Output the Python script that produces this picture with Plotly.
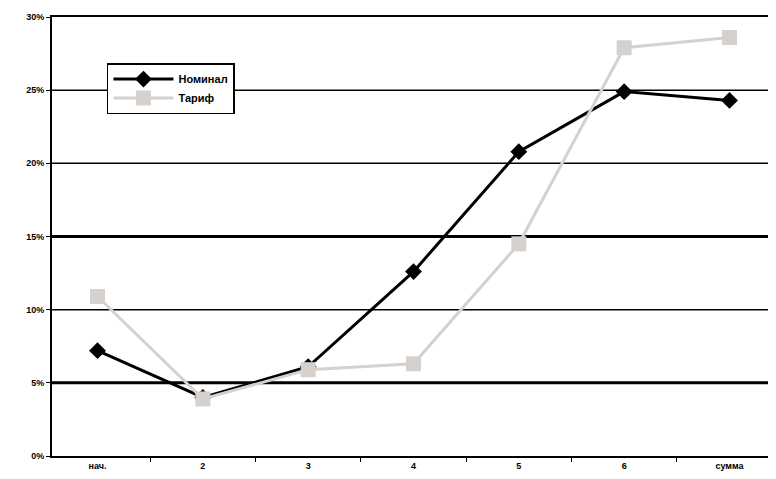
import plotly.graph_objects as go

categories = ["нач.", "2", "3", "4", "5", "6", "сумма"]
nominal = [7.2, 4.0, 6.1, 12.6, 20.8, 24.9, 24.3]
tarif = [10.9, 3.9, 5.9, 6.3, 14.5, 27.9, 28.6]
yticks = [0, 5, 10, 15, 20, 25, 30]
yticklabels = ["0%", "5%", "10%", "15%", "20%", "25%", "30%"]
thick_grid = [5, 15]
thin_grid = [10, 20, 25]

fig = go.Figure()
fig.add_trace(go.Scatter(
    x=categories, y=nominal, name="Номинал", mode="lines+markers",
    line=dict(color="black", width=3),
    marker=dict(symbol="diamond", size=13, color="black"),
))
fig.add_trace(go.Scatter(
    x=categories, y=tarif, name="Тариф", mode="lines+markers",
    line=dict(color="#d6d1cd", width=3),
    marker=dict(symbol="square", size=15, color="#d6d1cd"),
))

shapes = []
for g in thin_grid:
    shapes.append(dict(type="line", xref="paper", x0=0, x1=1, yref="y", y0=g, y1=g,
                       line=dict(color="black", width=1.5), layer="below"))
for g in thick_grid:
    shapes.append(dict(type="line", xref="paper", x0=0, x1=1, yref="y", y0=g, y1=g,
                       line=dict(color="black", width=3), layer="below"))

fig.update_layout(
    width=776, height=479,
    margin=dict(l=44, r=9, t=9, b=31),
    paper_bgcolor="white", plot_bgcolor="white",
    font=dict(family="Liberation Sans, Arial", size=9, color="black", weight="bold"),
    showlegend=True,
    legend=dict(x=0.076, y=0.895, xanchor="left", yanchor="top",
                bordercolor="black", borderwidth=1.5, bgcolor="white",
                font=dict(size=11, color="black", weight="bold"), tracegroupgap=0,
                itemwidth=60),
    shapes=shapes,
    xaxis=dict(type="category", tickson="boundaries", ticks="outside", ticklen=4,
               tickcolor="black", showgrid=False, showline=True, linecolor="black",
               linewidth=2, mirror=True, tickfont=dict(size=9), automargin=False),
    yaxis=dict(range=[0, 30], tickvals=yticks, ticktext=yticklabels, ticks="outside",
               ticklen=4, tickcolor="black", showgrid=False, showline=True,
               linecolor="black", linewidth=2, mirror=True, zeroline=False,
               tickfont=dict(size=9), automargin=False),
)

fig.write_html("out.html")
